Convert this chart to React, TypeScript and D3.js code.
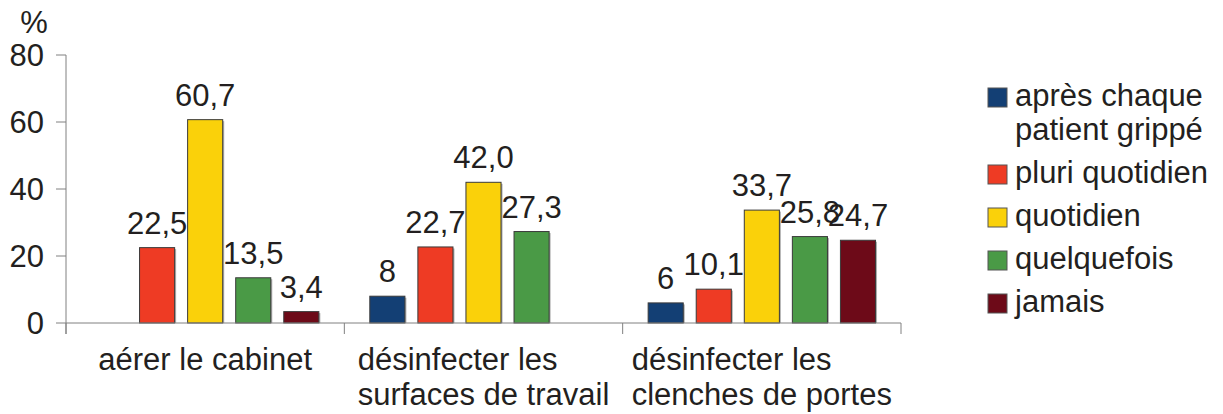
import React from 'react'
import * as d3 from 'd3'

const categories = ['aérer le cabinet', 'désinfecter les surfaces de travail', 'désinfecter les clenches de portes']
const categoryLines = [['aérer le cabinet'], ['désinfecter les', 'surfaces de travail'], ['désinfecter les', 'clenches de portes']]
const seriesNames = ['après chaque patient grippé', 'pluri quotidien', 'quotidien', 'quelquefois', 'jamais']
const legendLines = [['après chaque', 'patient grippé'], ['pluri quotidien'], ['quotidien'], ['quelquefois'], ['jamais']]
const seriesColors = ['#133f74', '#ee3b24', '#fad10a', '#4a9a46', '#6d0a18']

const apresChaque = [null, 8, 6]
const pluriQuotidien = [22.5, 22.7, 10.1]
const quotidien = [60.7, 42.0, 33.7]
const quelquefois = [13.5, 27.3, 25.8]
const jamais = [3.4, null, 24.7]
const seriesValues = [apresChaque, pluriQuotidien, quotidien, quelquefois, jamais]

const apresChaqueLabels = ['', '8', '6']
const pluriQuotidienLabels = ['22,5', '22,7', '10,1']
const quotidienLabels = ['60,7', '42,0', '33,7']
const quelquefoisLabels = ['13,5', '27,3', '25,8']
const jamaisLabels = ['3,4', '', '24,7']
const seriesLabels = [apresChaqueLabels, pluriQuotidienLabels, quotidienLabels, quelquefoisLabels, jamaisLabels]

const yTicks = [0, 20, 40, 60, 80]

const FONT = "'Liberation Sans', Arial, sans-serif"
const FONT_SIZE = 31
const TEXT = '#231f20'
const AXIS = '#808080'

let ctx: CanvasRenderingContext2D | null = null
function textWidth(s: string) {
  if (!ctx) ctx = document.createElement('canvas').getContext('2d')
  if (!ctx) return s.length * FONT_SIZE * 0.5
  ctx.font = `${FONT_SIZE}px ${FONT}`
  return ctx.measureText(s).width
}

export default function App() {
  const width = 1223
  const height = 414
  const left = 66
  const right = 901
  const top = 55
  const bottom = 323

  const x0 = d3.scaleBand<string>().domain(categories).range([left, right])
  const x1 = d3.scaleBand<string>()
    .domain(seriesNames)
    .range([0, x0.bandwidth()])
    .paddingInner(0.27)
    .paddingOuter(0.53)
  const y = d3.scaleLinear().domain([0, 80]).range([bottom, top])

  // legend baselines
  let legendY = 106
  const legendItems = legendLines.map((lines, i) => {
    const item = { y: legendY, lines, color: seriesColors[i] }
    legendY += (lines.length - 1) * 34 + 43
    return item
  })

  return (
    <svg width={width} height={height} style={{ position: 'absolute', left: 0, top: 0, background: '#fff' }}
      fontFamily={FONT} fontSize={FONT_SIZE} fill={TEXT}>
      <rect width={width} height={height} fill="#fff" />
      <text x={34} y={33} textAnchor="middle">%</text>

      {/* y axis */}
      <line x1={left} x2={left} y1={top} y2={bottom + 11} stroke={AXIS} strokeWidth={1} />
      {yTicks.map(t => (
        <g key={t}>
          <line x1={left - 10} x2={left} y1={y(t)} y2={y(t)} stroke={AXIS} strokeWidth={1} />
          <text x={44} y={y(t) + 11} textAnchor="end">{t}</text>
        </g>
      ))}

      {/* bars */}
      {categories.map((c, ci) => (
        <g key={c} transform={`translate(${x0(c)},0)`}>
          {seriesNames.map((s, si) => {
            const v = seriesValues[si][ci]
            if (v == null) return null
            const bx = x1(s)!
            const bw = x1.bandwidth()
            return (
              <g key={s}>
                <rect x={bx + 1.5} y={y(v) + 1.5} width={bw} height={bottom - y(v) - 1.5} fill="#b0b0b0" />
                <rect x={bx} y={y(v)} width={bw} height={bottom - y(v)} fill={seriesColors[si]} stroke="#3a3a3a" strokeWidth={1} />
                <text x={bx + bw / 2} y={y(v) - 14} textAnchor="middle">{seriesLabels[si][ci]}</text>
              </g>
            )
          })}
        </g>
      ))}

      {/* x axis */}
      <line x1={left} x2={right} y1={bottom} y2={bottom} stroke={AXIS} strokeWidth={1} />
      {[...categories.map(c => x0(c)!), right].map((xx, i) => (
        <line key={i} x1={xx} x2={xx} y1={bottom} y2={bottom + 11} stroke={AXIS} strokeWidth={1} />
      ))}
      {categories.map((c, ci) => {
        const lines = categoryLines[ci]
        const maxW = d3.max(lines, l => textWidth(l)) || 0
        const cx = x0(c)! + x0.bandwidth() / 2
        return (
          <g key={c}>
            {lines.map((l, li) => (
              <text key={li} x={cx - maxW / 2} y={370 + li * 35} textAnchor="start">{l}</text>
            ))}
          </g>
        )
      })}

      {/* legend */}
      {legendItems.map((it, i) => (
        <g key={i}>
          <rect x={988} y={it.y - 18} width={19} height={19} fill={it.color} stroke="#555" strokeWidth={1} />
          {it.lines.map((l, li) => (
            <text key={li} x={1015} y={it.y + li * 34}>{l}</text>
          ))}
        </g>
      ))}
    </svg>
  )
}
